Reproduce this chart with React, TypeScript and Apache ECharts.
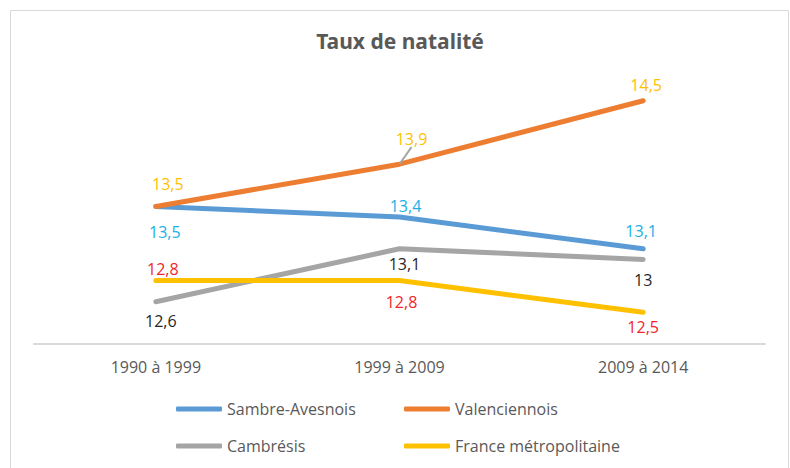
import React, { useEffect, useRef } from "react";
import * as echarts from "echarts";

const categories = ["1990 à 1999", "1999 à 2009", "2009 à 2014"];
const seriesNames = ["Sambre-Avesnois", "Valenciennois", "Cambrésis", "France métropolitaine"];
const sambreAvesnois = [13.5, 13.4, 13.1];
const valenciennois = [13.5, 13.9, 14.5];
const cambresis = [12.6, 13.1, 13];
const franceMetropolitaine = [12.8, 12.8, 12.5];

const lineColors = ["#5B9BD5", "#ED7D31", "#A5A5A5", "#FFC000"];
const labelColors = ["#1AAFE6", "#FFC000", "#262626", "#F0262B"];
// label centre offsets relative to each point (px)
const labelOffsets = [
  [[9, 25], [6, -11], [-2, -18]],
  [[12, -23], [12, -25], [3, -16]],
  [[5, 19], [5, 15], [0, 21]],
  [[7, -12], [2, 21], [0, 15]],
];

const FONT = "'Open Sans', 'Noto Sans', sans-serif";
const fmt = (v: number) => String(v).replace(".", ",");

export default function App() {
  const ref = useRef<HTMLDivElement>(null);
  useEffect(() => {
    if (!ref.current) return;
    const chart = echarts.init(ref.current, null, { renderer: "svg" });
    const values = [sambreAvesnois, valenciennois, cambresis, franceMetropolitaine];
    const legendPos = [
      [176, 401],
      [404, 401],
      [176, 438],
      [404, 438],
    ];
    chart.setOption({
      animation: false,
      backgroundColor: "#ffffff",
      graphic: [
        {
          type: "rect",
          shape: { x: 10.5, y: 10.5, width: 778, height: 500 },
          style: { fill: "none", stroke: "#D9D9D9", lineWidth: 1 },
          silent: true,
        },
      ],
      title: {
        text: "Taux de natalité",
        left: 395,
        textAlign: "center",
        top: 25,
        textStyle: {
          fontSize: 21,
          fontWeight: "bold",
          color: "#595959",
          fontFamily: "'Noto Sans', sans-serif",
        },
      },
      legend: seriesNames.map((n, i) => ({
        data: [n],
        left: legendPos[i][0],
        top: legendPos[i][1],
        padding: 0,
        icon: "roundRect",
        itemWidth: 46,
        itemHeight: 5,
        selectedMode: false,
        textStyle: { fontSize: 16, color: "#595959", fontFamily: FONT },
      })),
      grid: { left: 34, right: 25, top: 69, bottom: 124 },
      xAxis: {
        type: "category",
        data: categories,
        boundaryGap: true,
        axisLine: { lineStyle: { color: "#D9D9D9", width: 2 } },
        axisTick: { show: false },
        axisLabel: { fontSize: 16, color: "#595959", fontFamily: FONT, margin: 15 },
        splitLine: { show: false },
      },
      yAxis: {
        type: "value",
        min: 12.2,
        max: 14.8,
        show: false,
        splitLine: { show: false },
      },
      series: seriesNames.map((n, si) => ({
        name: n,
        type: "line",
        symbol: "circle",
        symbolSize: 1,
        color: lineColors[si],
        itemStyle: { color: lineColors[si] },
        lineStyle: { width: 5, color: lineColors[si], cap: "round", join: "round" },
        data: values[si].map((v, i) => ({
          value: v,
          label: { position: "inside", offset: labelOffsets[si][i] },
          labelLine:
            si === 1 && i === 1
              ? { show: true, lineStyle: { color: "#A5A5A5", width: 2 } }
              : undefined,
        })),
        label: {
          show: true,
          fontSize: 16,
          color: labelColors[si],
          fontFamily: FONT,
          formatter: (p: any) => fmt(p.value),
        },
      })),
    });
    return () => chart.dispose();
  }, []);
  return (
    <div
      ref={ref}
      style={{ position: "fixed", left: 0, top: 0, width: 790, height: 468 }}
    />
  );
}
